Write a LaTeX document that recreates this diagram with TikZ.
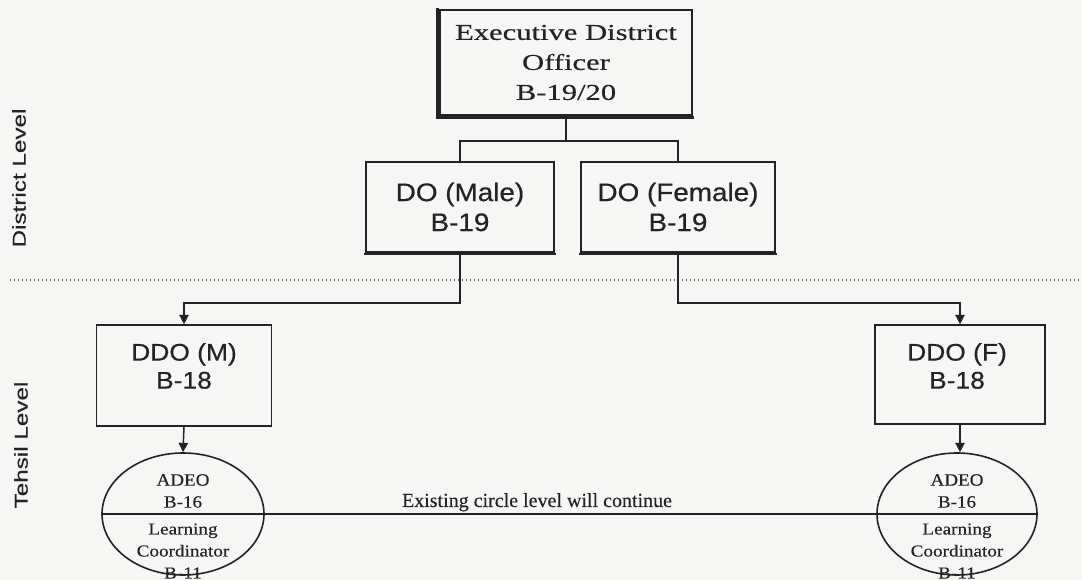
\documentclass[tikz,border=0pt]{standalone}
\usepackage{fontspec}
\setmainfont[FakeBold=0.3]{Liberation Serif}
\newfontfamily\edofont[FakeStretch=1.35,FakeBold=0.4]{Liberation Serif}
\newfontfamily\boxfont[FakeStretch=1.1,FakeBold=0.5]{Liberation Sans}
\newfontfamily\sidefont[FakeStretch=1.3,FakeBold=0.4]{Liberation Sans}
\newfontfamily\elfont[FakeStretch=1.1,FakeBold=0.3]{Liberation Serif}
\newfontfamily\elsmall[FakeStretch=1.15,FakeBold=0.3]{Liberation Serif}
\usetikzlibrary{arrows.meta,shapes.geometric}
\definecolor{ink}{RGB}{35,35,35}
\definecolor{paper}{RGB}{246,246,244}
\begin{document}
\begin{tikzpicture}[x=0.75pt,y=-0.75pt,
  box/.style={draw=ink, line width=1.2pt, inner sep=0pt, align=center, text=ink},
  txt/.style={inner sep=0pt, align=center, text=ink},
  oval/.style={draw=ink, line width=1.2pt, ellipse, inner sep=0pt},
  link/.style={draw=ink, line width=1.1pt},
  arr/.style={link, -{Triangle[length=7pt,width=7pt]}},
  shadow/.style={draw=ink, line width=2.2pt, line cap=rect}]
\fill[paper] (0,0) rectangle (1082,580);
\useasboundingbox (0,0) rectangle (1082,580);

% side labels
\node[txt, rotate=90, font=\sidefont\fontsize{14}{16}\selectfont] (district) at (19,178) {District Level};
\node[txt, rotate=90, font=\sidefont\fontsize{14}{16}\selectfont] (tehsil) at (21,445) {Tehsil Level};

% dotted separator
\coordinate (sepL) at (10,280);
\coordinate (sepR) at (1082,280);
\draw[gray!80!black, dotted, line width=1pt] (sepL) -- (sepR);

% boxes
\node[box, minimum width=189pt, minimum height=78.75pt, font=\edofont\fontsize{17}{22.5}\selectfont] (edo) at (566,62.5)
  {Executive District\\Officer\\B-19/20};
\draw[shadow] ([xshift=-1.2pt]edo.north west) -- ([shift={(-1.2pt,-1.2pt)}]edo.south west) -- ([yshift=-1.2pt]edo.south east);

\node[box, minimum width=141pt, minimum height=67.5pt, font=\boxfont\fontsize{19}{22.5}\selectfont] (dom) at (460,207)
  {DO (Male)\\B-19};
\draw[shadow, line width=1.8pt] ([yshift=-1pt]dom.south west) -- ([yshift=-1pt]dom.south east);

\node[box, minimum width=145.5pt, minimum height=67.5pt, font=\boxfont\fontsize{19}{22.5}\selectfont] (dof) at (678,207)
  {DO (Female)\\B-19};
\draw[shadow, line width=1.8pt] ([yshift=-1pt]dof.south west) -- ([yshift=-1pt]dof.south east);

\node[box, minimum width=131.25pt, minimum height=75.75pt] (ddom) at (184,375.5) {};
\node[txt, font=\boxfont\fontsize{18}{21}\selectfont] (ddomt) at (184,366) {DDO (M)\\B-18};

\node[box, minimum width=127.5pt, minimum height=74.25pt] (ddof) at (960,374.5) {};
\node[txt, font=\boxfont\fontsize{18}{21}\selectfont] (ddoft) at (957,366) {DDO (F)\\B-18};

% ellipses
\node[oval, minimum width=121.5pt, minimum height=91.5pt] (elm) at (183,514) {};
\node[oval, minimum width=120pt, minimum height=91.5pt] (elf) at (957,514) {};
\draw[link] (elm.west) -- (elf.east);

\node[txt, font=\elfont\fontsize{13}{16.5}\selectfont] (elmt) at (183,491) {ADEO\\B-16};
\node[txt, font=\elsmall\fontsize{12.5}{16.5}\selectfont] (elmb) at (183,551) {Learning\\Coordinator\\B-11};
\node[txt, font=\elfont\fontsize{13}{16.5}\selectfont] (elft) at (957,491) {ADEO\\B-16};
\node[txt, font=\elsmall\fontsize{12.5}{16.5}\selectfont] (elfb) at (957,551) {Learning\\Coordinator\\B-11};

\node[txt, anchor=base, font=\fontsize{15}{18}\selectfont] (cont) at (537,507) {Existing circle level will continue};

% connectors
\draw[link] (edo.south) -- ++(0,25) -| (dom.north);
\draw[link] (edo.south) -- ++(0,25) -| (dof.north);
\draw[arr] (dom.south) -- ++(0,50) -| (ddom.north);
\draw[arr] (dof.south) -- ++(0,50) -| (ddof.north);
\draw[arr] (ddom.south) -- (elm.north);
\draw[arr] (ddof.south) -- (ddof.south |- elf.north);
\end{tikzpicture}
\end{document}
